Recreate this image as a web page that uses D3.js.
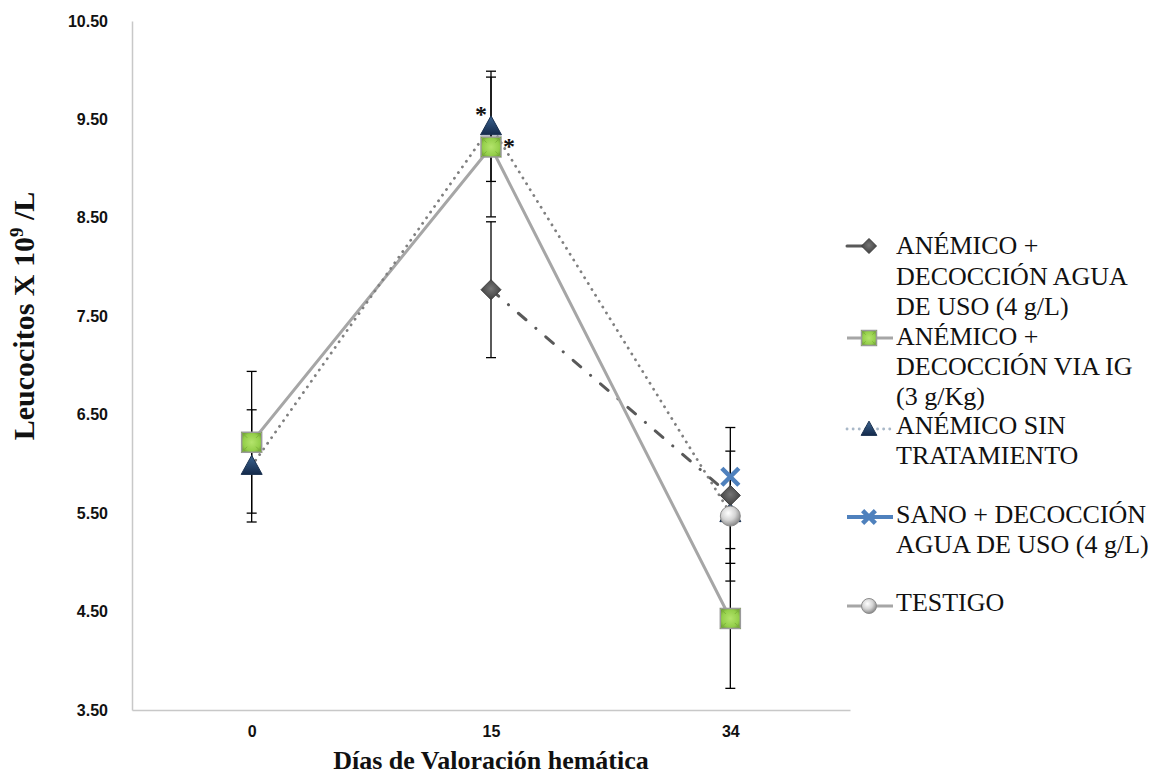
<!DOCTYPE html>
<html>
<head>
<meta charset="utf-8">
<script src="https://cdn.jsdelivr.net/npm/d3@7/dist/d3.min.js"></script>
<style>
  html, body { margin: 0; padding: 0; background: #ffffff; }
  svg { display: block; }
</style>
</head>
<body>
<svg id="chart" width="1159" height="778"></svg>
<script>
// Days on which blood values were measured
const days = ["0", "15", "34"];
const yTicks = [3.5, 4.5, 5.5, 6.5, 7.5, 8.5, 9.5, 10.5];

// Leukocytes (x10^9/L) per group, with standard deviation (null = not measured)
const aguaUsoMean = [null, 7.77, 5.68];
const aguaUsoSd   = [null, 0.69, 0.69];
const viaIgMean   = [6.22, 9.22, 4.43];
const viaIgSd     = [0.72, 0.71, 0.71];
const sinTratMean = [5.98, 9.43, 5.50];
const sinTratSd   = [0.57, 0.56, null];
const sanoMean    = [null, null, 5.87];
const sanoSd      = [null, null, null];
const testigoMean = [null, null, 5.47];
const testigoSd   = [null, null, 0.66];

const legendLabels = [
  ["ANÉMICO +", "DECOCCIÓN AGUA", "DE USO (4 g/L)"],
  ["ANÉMICO +", "DECOCCIÓN VIA IG", "(3 g/Kg)"],
  ["ANÉMICO SIN", "TRATAMIENTO"],
  ["SANO + DECOCCIÓN", "AGUA DE USO (4 g/L)"],
  ["TESTIGO"]
];

// significance marks: [day, series key, dx, dy]
const starMarks = [["15", "sinTrat", -10, -4], ["15", "viaIg", 18, 7]];

const series = [
  { key: "aguaUso", mean: aguaUsoMean, sd: aguaUsoSd, marker: "diamond",
    line: { stroke: "#595959", width: 3, dash: "10 13 0.1 13", cap: "round" } },
  { key: "viaIg", mean: viaIgMean, sd: viaIgSd, marker: "square",
    line: { stroke: "#a6a6a6", width: 3, dash: null, cap: "butt" } },
  { key: "sinTrat", mean: sinTratMean, sd: sinTratSd, marker: "triangle",
    line: { stroke: "#808080", width: 2.8, dash: "0.1 6.8", cap: "round" } },
  { key: "sano", mean: sanoMean, sd: sanoSd, marker: "cross",
    line: { stroke: "#4f81bd", width: 4, dash: null, cap: "butt" } },
  { key: "testigo", mean: testigoMean, sd: testigoSd, marker: "circle",
    line: { stroke: "#a6a6a6", width: 3, dash: null, cap: "butt" } }
];

const svg = d3.select("#chart");
const defs = svg.append("defs");

// gradients for the bevelled markers
const g1 = defs.append("radialGradient").attr("id", "ballGrad")
  .attr("cx", "40%").attr("cy", "35%").attr("r", "65%");
g1.append("stop").attr("offset", "0%").attr("stop-color", "#ffffff");
g1.append("stop").attr("offset", "55%").attr("stop-color", "#d4d4d4");
g1.append("stop").attr("offset", "100%").attr("stop-color", "#8a8a8a");

const g2 = defs.append("linearGradient").attr("id", "triGrad")
  .attr("x1", "0").attr("y1", "0").attr("x2", "0").attr("y2", "1");
g2.append("stop").attr("offset", "0%").attr("stop-color", "#3c6591");
g2.append("stop").attr("offset", "100%").attr("stop-color", "#14294a");

const g3 = defs.append("radialGradient").attr("id", "sqGrad")
  .attr("cx", "50%").attr("cy", "50%").attr("r", "60%");
g3.append("stop").attr("offset", "0%").attr("stop-color", "#b4e46c");
g3.append("stop").attr("offset", "70%").attr("stop-color", "#94cf4a");
g3.append("stop").attr("offset", "100%").attr("stop-color", "#6ea132");

const g4 = defs.append("radialGradient").attr("id", "diaGrad")
  .attr("cx", "50%").attr("cy", "45%").attr("r", "60%");
g4.append("stop").attr("offset", "0%").attr("stop-color", "#767676");
g4.append("stop").attr("offset", "100%").attr("stop-color", "#3a3a3a");

const plotLeft = 132, plotRight = 850, plotTop = 21, plotBottom = 710;

const x = d3.scalePoint().domain(days).range([plotLeft, plotRight]).padding(0.5);
const y = d3.scaleLinear().domain([3.5, 10.5]).range([plotBottom, plotTop]);

// axes
const yAxis = svg.append("g")
  .attr("transform", `translate(${plotLeft},0)`)
  .call(d3.axisLeft(y).tickValues(yTicks).tickSize(0).tickPadding(24)
    .tickFormat(d3.format(".2f")));
yAxis.select(".domain").attr("stroke", "#c8c8c8").attr("stroke-width", 1.5);
yAxis.selectAll("text")
  .attr("font-family", "'Liberation Sans', Arial, sans-serif")
  .attr("font-weight", "bold").attr("font-size", 16).attr("fill", "#111");

const xAxis = svg.append("g")
  .attr("transform", `translate(0,${plotBottom})`)
  .call(d3.axisBottom(x).tickSize(0).tickPadding(16));
xAxis.select(".domain").attr("stroke", "#c8c8c8").attr("stroke-width", 1.5);
xAxis.selectAll("text")
  .attr("font-family", "'Liberation Sans', Arial, sans-serif")
  .attr("font-weight", "bold").attr("font-size", 16).attr("fill", "#111");

// axis titles
svg.append("text")
  .attr("transform", "translate(34,316) rotate(-90)")
  .attr("text-anchor", "middle")
  .attr("font-family", "'Liberation Serif', 'Times New Roman', serif")
  .attr("font-weight", "bold").attr("font-size", 30).attr("fill", "#111")
  .call(t => {
    t.append("tspan").text("Leucocitos  X 10");
    t.append("tspan").attr("dy", -11).attr("font-size", 19).text("9");
    t.append("tspan").attr("dy", 11).text(" /L");
  });

svg.append("text")
  .attr("x", 491).attr("y", 769)
  .attr("text-anchor", "middle")
  .attr("font-family", "'Liberation Serif', 'Times New Roman', serif")
  .attr("font-weight", "bold").attr("font-size", 26).attr("fill", "#111")
  .text("Días de Valoración  hemática");

// marker drawing
function drawMarker(g, type, size) {
  const h = size / 2;
  if (type === "square") {
    g.append("rect").attr("x", -h).attr("y", -h).attr("width", size).attr("height", size)
      .attr("fill", "url(#sqGrad)").attr("stroke", "#9a9a9a").attr("stroke-width", 1.5);
    g.append("path").attr("d", `M${-h},${-h}L${-h*0.45},${-h*0.45}M${h},${-h}L${h*0.45},${-h*0.45}M${-h},${h}L${-h*0.45},${h*0.45}M${h},${h}L${h*0.45},${h*0.45}`)
      .attr("stroke", "#7fb23c").attr("stroke-width", 1);
  } else if (type === "triangle") {
    g.append("path").attr("d", `M0,${-h*1.05}L${h*1.05},${h*0.85}L${-h*1.05},${h*0.85}Z`)
      .attr("fill", "url(#triGrad)").attr("stroke", "#1a3150").attr("stroke-width", 1);
  } else if (type === "diamond") {
    g.append("path").attr("d", `M0,${-h}L${h},0L0,${h}L${-h},0Z`)
      .attr("fill", "url(#diaGrad)").attr("stroke", "#3d3d3d").attr("stroke-width", 1);
  } else if (type === "circle") {
    g.append("circle").attr("r", h)
      .attr("fill", "url(#ballGrad)").attr("stroke", "#8c8c8c").attr("stroke-width", 1);
  } else if (type === "cross") {
    g.append("path").attr("d", `M${-h*0.85},${-h*0.85}L${h*0.85},${h*0.85}M${h*0.85},${-h*0.85}L${-h*0.85},${h*0.85}`)
      .attr("stroke", "#4f81bd").attr("stroke-width", 4.5).attr("fill", "none");
  }
}

// connecting lines
const plot = svg.append("g");
const lineGen = d3.line()
  .defined(d => d.v !== null)
  .x(d => x(d.day)).y(d => y(d.v));

series.forEach(s => {
  const pts = days.map((day, i) => ({ day, v: s.mean[i] }));
  plot.append("path").datum(pts)
    .attr("d", lineGen)
    .attr("fill", "none")
    .attr("stroke", s.line.stroke)
    .attr("stroke-width", s.line.width)
    .attr("stroke-linecap", s.line.cap)
    .attr("stroke-dasharray", s.line.dash);
});

// error bars
const errG = svg.append("g");
series.forEach(s => {
  days.forEach((day, i) => {
    if (s.mean[i] === null || s.sd[i] === null) return;
    const cx = x(day), y0 = y(s.mean[i] - s.sd[i]), y1 = y(s.mean[i] + s.sd[i]);
    errG.append("line").attr("x1", cx).attr("x2", cx).attr("y1", y0).attr("y2", y1)
      .attr("stroke", "#000").attr("stroke-width", 1.3);
    [y0, y1].forEach(yy => errG.append("line")
      .attr("x1", cx - 5).attr("x2", cx + 5).attr("y1", yy).attr("y2", yy)
      .attr("stroke", "#000").attr("stroke-width", 1.3));
  });
});

// markers (triangles sit underneath the other groups)
const drawOrder = ["sinTrat", "viaIg", "aguaUso", "sano", "testigo"];
const markG = svg.append("g");
drawOrder.forEach(k => {
  const s = series.find(d => d.key === k);
  days.forEach((day, i) => {
    if (s.mean[i] === null) return;
    const g = markG.append("g").attr("transform", `translate(${x(day)},${y(s.mean[i])})`);
    drawMarker(g, s.marker, 20);
  });
});

// significance asterisks
starMarks.forEach(([day, key, dx, dy]) => {
  const s = series.find(d => d.key === key);
  const i = days.indexOf(day);
  svg.append("text")
    .attr("x", x(day) + dx).attr("y", y(s.mean[i]) + dy)
    .attr("text-anchor", "middle")
    .attr("font-family", "'Liberation Serif', 'Times New Roman', serif")
    .attr("font-weight", "bold")
    .attr("font-size", 24).attr("fill", "#111").text("*");
});

// legend
const legendRows = [
  { markY: 246, baselines: [254, 285, 315] },
  { markY: 338, baselines: [345, 375, 405] },
  { markY: 429, baselines: [434, 464] },
  { markY: 517, baselines: [523, 553] },
  { markY: 606, baselines: [611] }
];
const leg = svg.append("g");
series.forEach((s, i) => {
  const r = legendRows[i];
  const lx1 = 847, lx2 = s.marker === "diamond" ? 866 : 893, mx = 869;
  leg.append("line").attr("x1", lx1).attr("x2", lx2).attr("y1", r.markY).attr("y2", r.markY)
    .attr("stroke", s.marker === "triangle" ? "#a9b8c8" : s.line.stroke)
    .attr("stroke-width", s.line.width)
    .attr("stroke-linecap", s.line.cap)
    .attr("stroke-dasharray", s.marker === "triangle" ? "0.1 6" : null);
  const g = leg.append("g").attr("transform", `translate(${mx},${r.markY})`);
  drawMarker(g, s.marker, 15);
  legendLabels[i].forEach((txt, j) => {
    leg.append("text").attr("x", 896).attr("y", r.baselines[j])
      .attr("font-family", "'Liberation Serif', 'Times New Roman', serif")
      .attr("font-size", 26).attr("fill", "#111").text(txt);
  });
});
</script>
</body>
</html>
